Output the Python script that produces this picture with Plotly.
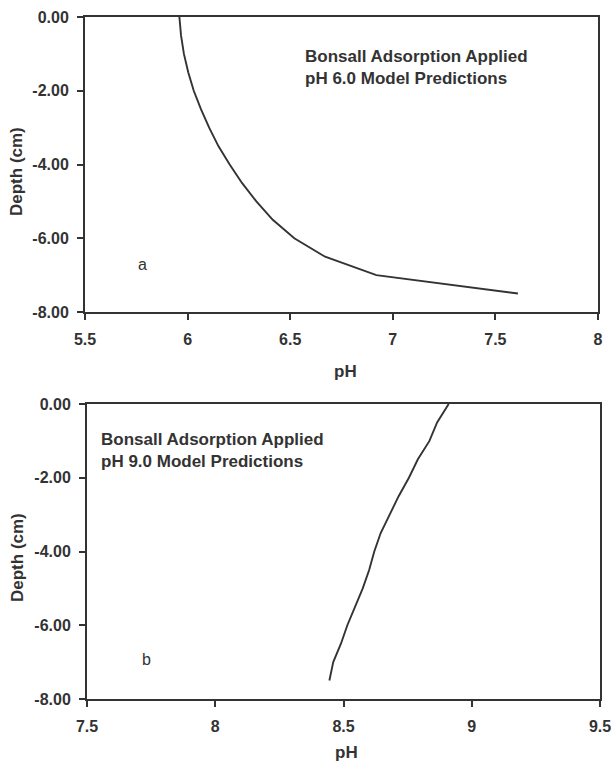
import plotly.graph_objects as go

# Panel a: pH 6.0 applied
depth_a = [0, -0.5, -1, -1.5, -2, -2.5, -3, -3.5, -4, -4.5, -5, -5.5, -6, -6.5, -7, -7.5]
ph_a = [5.96, 5.968, 5.982, 6.003, 6.03, 6.065, 6.105, 6.15, 6.205, 6.265, 6.335, 6.415, 6.52, 6.67, 6.92, 7.61]

# Panel b: pH 9.0 applied
depth_b = [0, -0.5, -1, -1.5, -2, -2.5, -3, -3.5, -4, -4.5, -5, -5.5, -6, -6.5, -7, -7.5]
ph_b = [8.91, 8.865, 8.835, 8.79, 8.755, 8.715, 8.68, 8.645, 8.62, 8.60, 8.575, 8.545, 8.515, 8.49, 8.46, 8.445]

y_tickvals = [0, -2, -4, -6, -8]
y_ticktext = ["0.00", "-2.00", "-4.00", "-6.00", "-8.00"]
xa_tickvals = [5.5, 6, 6.5, 7, 7.5, 8]
xa_ticktext = ["5.5", "6", "6.5", "7", "7.5", "8"]
xb_tickvals = [7.5, 8, 8.5, 9, 9.5]
xb_ticktext = ["7.5", "8", "8.5", "9", "9.5"]

label_a = "Bonsall Adsorption Applied<br>pH 6.0 Model Predictions"
label_b = "Bonsall Adsorption Applied<br>pH 9.0 Model Predictions"
x_title = "pH"
y_title = "Depth (cm)"

W, H = 613, 770
DARK = "#333333"
FONT = "Liberation Sans, Arial, sans-serif"

fig = go.Figure()
fig.add_trace(go.Scatter(x=ph_a, y=depth_a, mode="lines", line=dict(color=DARK, width=1.9),
                         xaxis="x", yaxis="y", showlegend=False))
fig.add_trace(go.Scatter(x=ph_b, y=depth_b, mode="lines", line=dict(color=DARK, width=1.9),
                         xaxis="x2", yaxis="y2", showlegend=False))

def px_x(p):
    return p / W

def px_y(p):
    return 1 - p / H

tickfont = dict(family=FONT, size=16, color=DARK)

common = dict(showgrid=False, zeroline=False, showline=True, linecolor=DARK, linewidth=2,
              mirror=True, ticks="outside", ticklen=6, tickwidth=2, tickcolor=DARK,
              tickfont=tickfont, automargin=False, tickmode="array")

def bold(lst):
    return ["<b>" + t + "</b>" for t in lst]

fig.update_layout(
    template="none",
    width=W, height=H,
    margin=dict(l=0, r=0, t=0, b=0),
    paper_bgcolor="white", plot_bgcolor="white",
    font=dict(family=FONT, color=DARK),
    showlegend=False,
    xaxis=dict(common, domain=[px_x(85), px_x(598)], range=[5.5, 8], ticklabelstandoff=6,
               tickvals=xa_tickvals, ticktext=bold(xa_ticktext), anchor="y"),
    yaxis=dict(common, domain=[px_y(312), px_y(17)], range=[-8, 0], ticklabelstandoff=5,
               tickvals=y_tickvals, ticktext=bold(y_ticktext), anchor="x"),
    xaxis2=dict(common, domain=[px_x(87), px_x(600)], range=[7.5, 9.5], ticklabelstandoff=6,
                tickvals=xb_tickvals, ticktext=bold(xb_ticktext), anchor="y2"),
    yaxis2=dict(common, domain=[px_y(699), px_y(404)], range=[-8, 0], ticklabelstandoff=5,
                tickvals=y_tickvals, ticktext=bold(y_ticktext), anchor="x2"),
)

def text(t, x, y, size, angle=0, xanchor="center", yanchor="middle"):
    fig.add_annotation(text=t, xref="paper", yref="paper", x=px_x(x), y=px_y(y),
                       xanchor=xanchor, yanchor=yanchor, align="left", textangle=angle,
                       showarrow=False, font=dict(family=FONT, size=size, color=DARK))

# axis titles
text("<b>" + x_title + "</b>", 345, 372, 17)
text("<b>" + x_title + "</b>", 346, 752, 17)
text("<b>" + y_title + "</b>", 17, 172, 17, angle=-90)
text("<b>" + y_title + "</b>", 17, 558, 17, angle=-90)

# in-plot labels
text("<b>" + label_a + "</b>", 303, 45, 17, xanchor="left", yanchor="top")
text("<b>" + label_b + "</b>", 99, 428, 17, xanchor="left", yanchor="top")
text("a", 142, 265, 16)
text("b", 146, 659, 16)

fig.write_html("out.html",
               config={"displayModeBar": False},
               post_script="document.body.style.margin='0';document.body.style.overflow='hidden';")
